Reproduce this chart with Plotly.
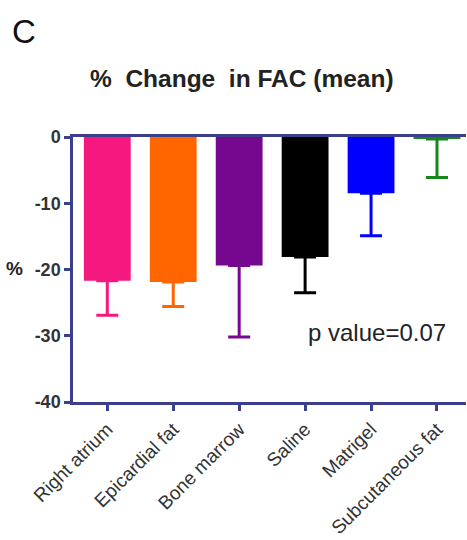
import plotly.graph_objects as go

categories = ["Right atrium", "Epicardial fat", "Bone marrow", "Saline", "Matrigel", "Subcutaneous fat"]
mean_change = [-21.7, -21.9, -19.4, -18.1, -8.5, -0.3]
sem_change = [5.2, 3.7, 10.8, 5.4, 6.4, 5.8]
bar_colors = ["#f5197f", "#ff6600", "#76078f", "#000000", "#0000ff", "#16861c"]
y_ticks = [0, -10, -20, -30, -40]

axis_color = "#3b3f8c"
font_family = "Liberation Sans, Arial, sans-serif"

fig = go.Figure()
for i, (cat, m, e, c) in enumerate(zip(categories, mean_change, sem_change, bar_colors)):
    fig.add_trace(go.Bar(
        x=[i], y=[m],
        marker=dict(color=c, line=dict(width=0)),
        width=0.71,
        error_y=dict(type="data", symmetric=False, array=[0], arrayminus=[e],
                     color=c, thickness=3, width=11),
        showlegend=False,
    ))

fig.update_layout(
    width=467, height=540,
    margin=dict(l=73, r=1, t=137, b=138),
    paper_bgcolor="white", plot_bgcolor="white",
    font=dict(family=font_family, color="#222222"),
)
fig.update_xaxes(
    range=[-0.52, 5.44], automargin=False,
    tickmode="array", tickvals=list(range(len(categories))), ticktext=categories,
    tickangle=-45, tickfont=dict(size=19, color="#333333"),
    showline=True, linecolor=axis_color, linewidth=2.5, mirror=True,
    ticks="outside", ticklen=6, tickwidth=2.5, tickcolor=axis_color,
    showgrid=False, zeroline=False,
)
fig.update_yaxes(
    range=[-40, 0], automargin=False,
    tickmode="array", tickvals=y_ticks, ticktext=[str(v) for v in y_ticks],
    tickfont=dict(size=18, color="#333333", weight="bold"),
    showline=True, linecolor=axis_color, linewidth=2.5,
    ticks="outside", ticklen=6, tickwidth=2.5, tickcolor=axis_color,
    showgrid=False, zeroline=False,
)

fig.add_annotation(text="C", xref="paper", yref="paper", x=-0.16, y=1.4,
                   xanchor="left", yanchor="middle", showarrow=False,
                   font=dict(size=33, color="#111111"))
fig.add_annotation(text="<b>%  Change  in FAC (mean)</b>", xref="paper", yref="paper",
                   x=0.43, y=1.22, xanchor="center", yanchor="middle", showarrow=False,
                   font=dict(size=24.5, color="#222222"))
fig.add_annotation(text="<b>%</b>", xref="paper", yref="y", x=0, y=-19.8,
                   xanchor="right", yanchor="middle", xshift=-48, showarrow=False,
                   font=dict(size=19, color="#222222"))
fig.add_annotation(text="p value=0.07", xref="x", yref="y", x=4.09, y=-29.5,
                   xanchor="center", yanchor="middle", showarrow=False,
                   font=dict(size=24, color="#222222"))

fig.write_html("out.html")
